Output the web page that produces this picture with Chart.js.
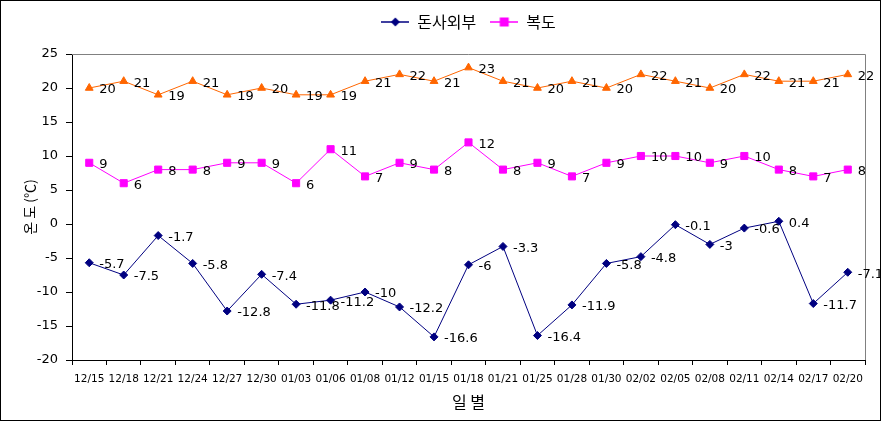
<!DOCTYPE html>
<html>
<head>
<meta charset="utf-8">
<script src="https://cdn.jsdelivr.net/npm/chart.js@4"></script>
<style>
  html, body { margin: 0; padding: 0; background: #fff; }
  #wrap { position: relative; width: 881px; height: 421px; }
</style>
</head>
<body>
<div id="wrap"><canvas id="chart" width="881" height="421"></canvas></div>
<script>
// Data
const dates = ['12/15', '12/18', '12/21', '12/24', '12/27', '12/30', '01/03', '01/06', '01/08', '01/12',
  '01/15', '01/18', '01/21', '01/25', '01/28', '01/30', '02/02', '02/05', '02/08', '02/11',
  '02/14', '02/17', '02/20'];
const outside = [-5.7, -7.5, -1.7, -5.8, -12.8, -7.4, -11.8, -11.2, -10, -12.2,
  -16.6, -6, -3.3, -16.4, -11.9, -5.8, -4.8, -0.1, -3, -0.6, 0.4, -11.7, -7.1];
const hallway = [9, 6, 8, 8, 9, 9, 6, 11, 7, 9, 8, 12, 8, 9, 7, 9, 10, 10, 9, 10, 8, 7, 8];
const inside = [20, 21, 19, 21, 19, 20, 19, 19, 21, 22, 21, 23, 21, 20, 21, 20, 22, 21, 20, 22, 21, 21, 22];
const yTicks = [25, 20, 15, 10, 5, 0, -5, -10, -15, -20];

const FONT = "'DejaVu Sans', 'Noto Sans CJK KR', sans-serif";
const KFONT = "'Noto Sans CJK KR', 'DejaVu Sans', sans-serif";

// legend swatch: short line with the marker in the middle
function legendIcon(color, style) {
  const c = document.createElement('canvas');
  c.width = 28; c.height = 12;
  const g = c.getContext('2d');
  g.strokeStyle = color; g.lineWidth = 1.5;
  g.beginPath(); g.moveTo(0, 6); g.lineTo(28, 6); g.stroke();
  g.fillStyle = color;
  if (style === 'diamond') {
    g.beginPath(); g.moveTo(14, 1.5); g.lineTo(18.5, 6); g.lineTo(14, 10.5); g.lineTo(9.5, 6); g.closePath(); g.fill();
  } else {
    g.fillRect(9.5, 1.5, 9, 9);
  }
  return c;
}

// draws value labels next to each point
const valueLabels = {
  id: 'valueLabels',
  afterDatasetsDraw(chart) {
    const ctx = chart.ctx;
    ctx.save();
    ctx.font = '13px ' + FONT;
    ctx.fillStyle = '#000';
    ctx.textAlign = 'left';
    ctx.textBaseline = 'middle';
    chart.data.datasets.forEach((ds, i) => {
      const meta = chart.getDatasetMeta(i);
      meta.data.forEach((pt, j) => {
        ctx.fillText(String(ds.data[j]), pt.x + 10, pt.y + 2);
      });
    });
    ctx.restore();
  }
};

// plot-area frame (gray top/right) and outer black frame
const frames = {
  id: 'frames',
  beforeInit(chart) {
    const fit = chart.legend.fit;
    chart.legend.fit = function () { fit.call(this); this.height = 54; };
  },
  afterLayout(chart) {
    // legend in the reference sits a little right of centre
    chart.legend.left += 36;
    chart.legend.right += 36;
  },
  beforeDatasetsDraw(chart) {
    const { ctx, chartArea: a } = chart;
    ctx.save();
    ctx.strokeStyle = '#808080';
    ctx.lineWidth = 1;
    ctx.beginPath();
    ctx.moveTo(a.left, a.top + 0.5); ctx.lineTo(a.right + 0.5, a.top + 0.5); ctx.lineTo(a.right + 0.5, a.bottom);
    ctx.stroke();
    ctx.restore();
  },
  afterDraw(chart) {
    const ctx = chart.ctx;
    ctx.save();
    ctx.strokeStyle = '#000';
    ctx.lineWidth = 1;
    ctx.strokeRect(0.5, 0.5, chart.width - 1, chart.height - 1);
    ctx.restore();
  }
};

new Chart(document.getElementById('chart'), {
  type: 'line',
  data: {
    labels: dates,
    datasets: [
      {
        label: '돈사외부',
        data: outside,
        borderColor: '#000080',
        backgroundColor: '#000080',
        borderWidth: 1,
        pointStyle: 'rectRot',
        pointRadius: 4,
        pointHoverRadius: 4,
        tension: 0
      },
      {
        label: '복도',
        data: hallway,
        borderColor: '#FF00FF',
        backgroundColor: '#FF00FF',
        borderWidth: 1,
        pointStyle: 'rect',
        pointRadius: 5,
        pointHoverRadius: 5,
        tension: 0
      },
      {
        label: '돈사내부',
        data: inside,
        borderColor: '#FF6600',
        backgroundColor: '#FF6600',
        borderWidth: 1,
        pointStyle: 'triangle',
        pointRadius: 4.5,
        pointHoverRadius: 4.5,
        tension: 0
      }
    ]
  },
  options: {
    responsive: false,
    animation: false,
    layout: { padding: { left: 0, right: 16, top: 0, bottom: 0 } },
    plugins: {
      tooltip: { enabled: false },
      legend: {
        position: 'top',
        labels: {
          usePointStyle: true,
          pointStyleWidth: 28,
          padding: 14,
          boxHeight: 12,
          color: '#000',
          font: { family: KFONT, size: 16 },
          generateLabels(chart) {
            return [
              { text: '돈사외부', pointStyle: legendIcon('#000080', 'diamond'), fillStyle: '#000080', strokeStyle: '#000080', lineWidth: 0, datasetIndex: 0 },
              { text: '복도', pointStyle: legendIcon('#FF00FF', 'square'), fillStyle: '#FF00FF', strokeStyle: '#FF00FF', lineWidth: 0, datasetIndex: 1 }
            ];
          }
        }
      }
    },
    scales: {
      x: {
        type: 'category',
        offset: true,
        afterFit(s) { s.height = 61; },
        grid: { display: true, drawOnChartArea: false, offset: true, tickLength: 5, color: '#000' },
        border: { color: '#000', width: 1 },
        ticks: {
          autoSkip: false, maxRotation: 0, minRotation: 0, padding: 8,
          color: '#000', font: { family: FONT, size: 10.5 }
        },
        title: {
          display: true, text: '일 별', color: '#000',
          font: { family: KFONT, size: 16 }, padding: { top: 0, bottom: 9 }
        }
      },
      y: {
        min: -20, max: 25,
        afterFit(s) { s.width = 72; },
        afterBuildTicks(s) { s.ticks = yTicks.map(v => ({ value: v })); },
        grid: { display: true, drawOnChartArea: false, tickLength: 6, color: '#000' },
        border: { color: '#000', width: 1 },
        ticks: { padding: 8, color: '#000', font: { family: FONT, size: 13 } },
        title: {
          display: true, text: '온 도 (℃)', color: '#000',
          font: { family: KFONT, size: 14 }, padding: { top: 21, bottom: 0 }
        }
      }
    }
  },
  plugins: [valueLabels, frames]
});
</script>
</body>
</html>
